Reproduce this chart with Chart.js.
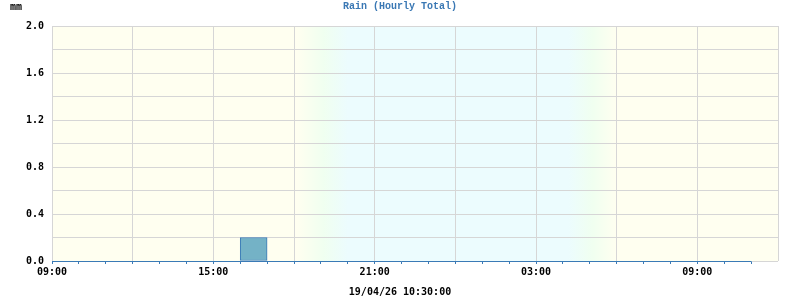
<!DOCTYPE html>
<html>
<head>
<meta charset="utf-8">
<script src="https://cdn.jsdelivr.net/npm/chart.js@4"></script>
<style>
  html, body { margin: 0; padding: 0; background: #ffffff; }
  #wrap { width: 800px; height: 300px; }
</style>
</head>
<body>
<div id="wrap"><canvas id="chart-rain"></canvas></div>
<script>
// rain per hour, first bucket starts at 09:00
const rainHourly = [0, 0, 0, 0, 0, 0, 0, 0.2, 0, 0, 0, 0, 0, 0, 0, 0, 0, 0, 0, 0, 0, 0, 0, 0, 0, 0];
const xTickLabels = ["09:00", "15:00", "21:00", "03:00", "09:00"];
const spanHours = 27;
// day/night shading, hours after 09:00
const shadeStops = [9.1, 10.1, 11.0, 19.2, 20.1, 21.0];
const titleText = "Rain (Hourly Total)";
const unitText = "mm";
const stampText = "19/04/26 10:30:00";

const DAY = "#fffff0";
const DUSK = "#f0fff0";
const NIGHT = "#ecfcfe";
const BLUE = "#3a7ab6";
const GRID = "#d6d6d6";
const CLEAR = "rgba(0,0,0,0)";

const tickFont = { family: "DejaVu Sans Mono", weight: "bold", size: 10 };

// background fill, drawn before the grid
const shading = {
  id: "shading",
  beforeDraw(chart) {
    const { ctx, chartArea, scales } = chart;
    const x = scales.x;
    const w = chartArea.right - chartArea.left;
    const g = ctx.createLinearGradient(chartArea.left, 0, chartArea.right, 0);
    const pos = (h) => (x.getPixelForValue(h) - chartArea.left) / w;
    g.addColorStop(0, DAY);
    g.addColorStop(pos(shadeStops[0]), DAY);
    g.addColorStop(pos(shadeStops[1]), DUSK);
    g.addColorStop(pos(shadeStops[2]), NIGHT);
    g.addColorStop(pos(shadeStops[3]), NIGHT);
    g.addColorStop(pos(shadeStops[4]), DUSK);
    g.addColorStop(pos(shadeStops[5]), DAY);
    g.addColorStop(1, DAY);
    ctx.save();
    ctx.fillStyle = g;
    ctx.fillRect(chartArea.left, chartArea.top, w, chartArea.bottom - chartArea.top);
    ctx.restore();
  },
};

const extras = {
  id: "extras",
  afterDatasetsDraw(chart) {
    const { ctx, scales } = chart;
    const y0 = Math.round(scales.y.getPixelForValue(0)) + 0.5;
    ctx.save();
    ctx.strokeStyle = BLUE;
    ctx.lineWidth = 1;
    ctx.beginPath();
    ctx.moveTo(scales.x.getPixelForValue(0), y0);
    ctx.lineTo(scales.x.getPixelForValue(rainHourly.length) + 0.5, y0);
    ctx.stroke();
    ctx.restore();
  },
  afterDraw(chart) {
    const { ctx } = chart;
    ctx.save();
    ctx.textBaseline = "middle";
    ctx.textAlign = "center";
    ctx.font = "bold 10px 'Liberation Mono'";
    ctx.fillStyle = "#3a78b4";
    ctx.fillText(titleText, 400, 6);
    ctx.font = "bold 10px 'DejaVu Sans Mono'";
    ctx.fillStyle = "#000000";
    ctx.fillText(unitText, 16, 7);
    ctx.fillText(stampText, 400, 292);
    ctx.restore();
  },
};

new Chart("chart-rain", {
  type: "bar",
  data: {
    datasets: [
      {
        data: rainHourly.map((v, i) => ({ x: i + 0.5, y: v })),
        backgroundColor: "#74b2c6",
        borderColor: (c) => (c.raw && c.raw.y > 0 ? BLUE : CLEAR),
        borderWidth: 1,
        borderSkipped: false,
        barPercentage: 1,
        categoryPercentage: 1,
      },
    ],
  },
  plugins: [shading, extras],
  options: {
    responsive: true,
    maintainAspectRatio: false,
    animation: false,
    layout: { padding: { left: 0, right: 22, top: 26, bottom: 0 } },
    plugins: {
      legend: { display: false },
      tooltip: { enabled: false },
    },
    scales: {
      x: {
        type: "linear",
        offset: false,
        min: 0,
        max: spanHours,
        afterFit: (scale) => { scale.height = 39; },
        border: { display: false },
        grid: {
          offset: false,
          color: (c) => (c.tick && c.tick.value % 3 === 0 ? GRID : CLEAR),
          tickColor: (c) => (c.tick && c.tick.value <= rainHourly.length ? BLUE : CLEAR),
          tickLength: 3,
        },
        ticks: {
          stepSize: 1,
          autoSkip: false,
          maxRotation: 0,
          padding: 2,
          color: "#000000",
          font: tickFont,
          callback: (value) => (value % 6 === 0 ? xTickLabels[value / 6] : ""),
        },
      },
      y: {
        min: 0,
        max: 2,
        afterFit: (scale) => { scale.width = 52; },
        border: { display: false },
        grid: { color: GRID, drawTicks: false },
        ticks: {
          stepSize: 0.2,
          padding: 8,
          color: "#000000",
          font: tickFont,
          callback: (value) => (Math.round(value * 10) % 4 === 0 ? value.toFixed(1) : ""),
        },
      },
    },
  },
});
</script>
</body>
</html>
